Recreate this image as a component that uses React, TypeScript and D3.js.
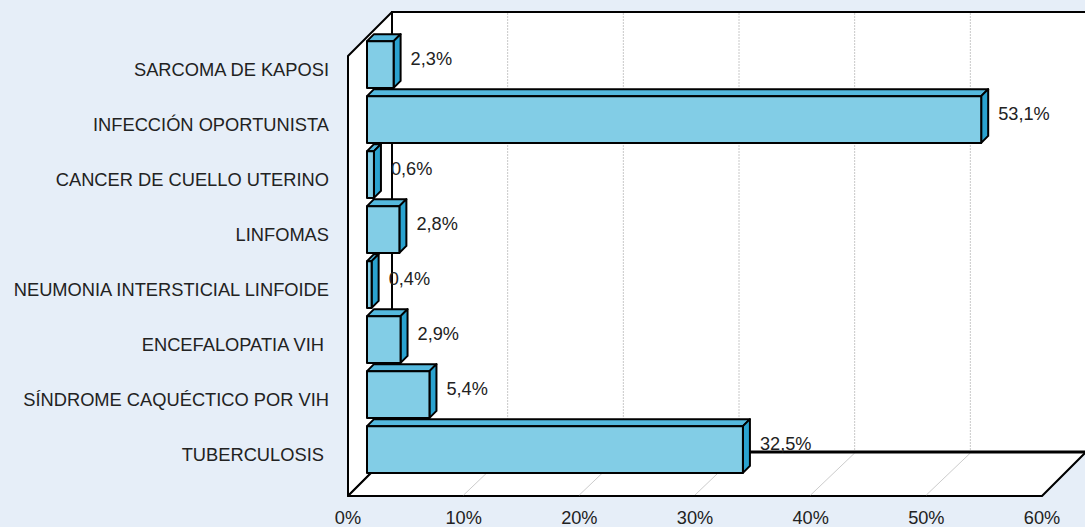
import React from "react";
import * as d3 from "d3";

const categories = [
  "SARCOMA DE KAPOSI",
  "INFECCIÓN OPORTUNISTA",
  "CANCER DE CUELLO UTERINO",
  "LINFOMAS",
  "NEUMONIA INTERSTICIAL LINFOIDE",
  "ENCEFALOPATIA VIH ",
  "SÍNDROME CAQUÉCTICO POR VIH",
  "TUBERCULOSIS ",
];
const values = [2.3, 53.1, 0.6, 2.8, 0.4, 2.9, 5.4, 32.5];
const ticks = [0, 10, 20, 30, 40, 50, 60];

const W = 1085;
const H = 527;
const DEPTH = 44; // 3D depth offset of the walls
const BAR_Z = 19; // bar front face depth
const BAR_D = 7; // bar thickness in depth
const FRONT_TOP = 56;
const FRONT_BOTTOM = 496;

const FONT = "Arial, 'Liberation Sans', sans-serif";
const TEXT = "#222";
const BG = "#e6eef8";
const FRONT = "#82cde6";
const TOP = "#55b9de";
const SIDE = "#2aa2cf";

export default function App() {
  const x = d3.scaleLinear().domain([0, 60]).range([348, 1042]);
  const y = d3
    .scaleBand<string>()
    .domain(categories)
    .range([FRONT_TOP - BAR_Z, FRONT_BOTTOM - BAR_Z])
    .paddingInner(0.15)
    .paddingOuter(0.075);
  const bw = y.bandwidth();
  const fmt = (v: number) => v.toFixed(1).replace(".", ",") + "%";
  const x0 = x(0);
  const x60 = x(60);

  const pts = (a: number[][]) => a.map((p) => p.join(",")).join(" ");

  return (
    <svg
      width={W}
      height={H}
      style={{ position: "absolute", left: 0, top: 0, background: BG }}
    >
      <rect x={0} y={0} width={W} height={H} fill={BG} />
      {/* side wall */}
      <polygon
        points={pts([
          [x0, FRONT_TOP],
          [x0 + DEPTH, FRONT_TOP - DEPTH],
          [x0 + DEPTH, FRONT_BOTTOM - DEPTH],
          [x0, FRONT_BOTTOM],
        ])}
        fill="#fff"
        stroke="#000"
        strokeWidth={2}
        strokeLinejoin="round"
      />
      {/* back wall */}
      <rect
        x={x0 + DEPTH}
        y={FRONT_TOP - DEPTH}
        width={x60 - x0}
        height={FRONT_BOTTOM - FRONT_TOP}
        fill="#fff"
        stroke="#000"
        strokeWidth={2}
      />
      {/* floor */}
      <polygon
        points={pts([
          [x0, FRONT_BOTTOM],
          [x0 + DEPTH, FRONT_BOTTOM - DEPTH],
          [x60 + DEPTH, FRONT_BOTTOM - DEPTH],
          [x60, FRONT_BOTTOM],
        ])}
        fill="#fff"
        stroke="#000"
        strokeWidth={2}
        strokeLinejoin="round"
      />
      {/* grid lines */}
      {ticks.slice(1, -1).map((t) => (
        <g key={"g" + t}>
          <line
            x1={x(t) + DEPTH}
            x2={x(t) + DEPTH}
            y1={FRONT_TOP - DEPTH + 1}
            y2={FRONT_BOTTOM - DEPTH - 1}
            stroke="#c8c8c8"
            strokeWidth={1}
            strokeDasharray="2,1"
          />
          <line
            x1={x(t)}
            x2={x(t) + DEPTH}
            y1={FRONT_BOTTOM - 1}
            y2={FRONT_BOTTOM - DEPTH + 1}
            stroke="#cccccc"
            strokeWidth={1}
          />
        </g>
      ))}
      <line
        x1={x0 + DEPTH}
        x2={x60 + DEPTH}
        y1={FRONT_BOTTOM - DEPTH}
        y2={FRONT_BOTTOM - DEPTH}
        stroke="#000"
        strokeWidth={3}
      />
      <line
        x1={x0 + DEPTH}
        x2={x0 + DEPTH}
        y1={FRONT_TOP - DEPTH}
        y2={FRONT_BOTTOM - DEPTH}
        stroke="#000"
        strokeWidth={2}
      />
      {/* bars */}
      {categories.map((c, i) => {
        const v = values[i];
        const bx0 = x(0) + BAR_Z;
        const bx1 = x(v) + BAR_Z;
        const by0 = y(c)!;
        const by1 = by0 + bw;
        return (
          <g key={c} stroke="#000" strokeWidth={2} strokeLinejoin="round">
            <polygon
              points={pts([
                [bx0, by0],
                [bx0 + BAR_D, by0 - BAR_D],
                [bx1 + BAR_D, by0 - BAR_D],
                [bx1, by0],
              ])}
              fill={TOP}
            />
            <polygon
              points={pts([
                [bx1, by0],
                [bx1 + BAR_D, by0 - BAR_D],
                [bx1 + BAR_D, by1 - BAR_D],
                [bx1, by1],
              ])}
              fill={SIDE}
            />
            <rect x={bx0} y={by0} width={bx1 - bx0} height={bw} fill={FRONT} />
          </g>
        );
      })}
      {/* value labels */}
      {categories.map((c, i) => (
        <text
          key={"v" + c}
          x={x(values[i]) + BAR_Z + 17}
          y={y(c)! + bw / 2 + 0.5}
          fontFamily={FONT}
          fontSize={18.2}
          fill={TEXT}
        >
          {fmt(values[i])}
        </text>
      ))}
      {/* category labels */}
      {categories.map((c) => (
        <text
          key={"c" + c}
          x={329}
          y={y(c)! + bw / 2 + 11}
          textAnchor="end"
          fontFamily={FONT}
          fontSize={18.3}
          fill={TEXT}
          style={{ whiteSpace: "pre" }}
        >
          {c}
        </text>
      ))}
      {/* tick labels */}
      {ticks.map((t) => (
        <text
          key={"t" + t}
          x={x(t)}
          y={524}
          textAnchor="middle"
          fontFamily={FONT}
          fontSize={18.2}
          fill={TEXT}
        >
          {t + "%"}
        </text>
      ))}
    </svg>
  );
}
